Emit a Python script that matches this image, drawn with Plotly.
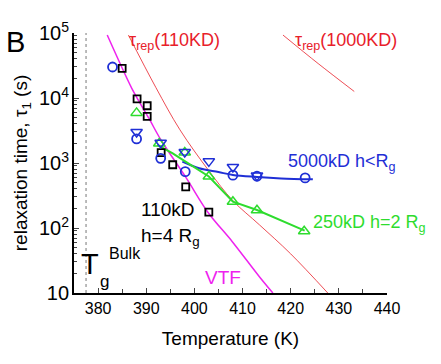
import plotly.graph_objects as go

# ---- data ----
sq_T = [385.0, 388.1, 390.2, 390.2, 393.1, 395.5, 398.2, 403.0]
sq_tau = [28500, 9700, 7600, 5200, 1440, 940, 430, 176]

blue_circ_T = [383.0, 388.0, 393.0, 398.1, 408.0, 413.0, 423.0]
blue_circ_tau = [30000, 2350, 1180, 735, 650, 625, 590]

blue_tri_T = [388.0, 393.0, 398.0, 403.0, 408.0, 413.0]
blue_tri_tau = [3000, 2050, 1480, 1060, 870, 640]

green_T = [388.0, 392.7, 398.0, 403.0, 408.0, 413.0, 422.8]
green_tau = [5900, 2000, 1450, 620, 253, 187, 89]

blue_fit_T = [397.5, 401.0, 405.0, 408.0, 413.0, 418.0, 424.6]
blue_fit_tau = [1050, 830, 725, 655, 610, 580, 560]

green_fit_T = [392.3, 395.5, 398.0, 400.5, 403.0, 408.0, 413.0, 422.9]
green_fit_tau = [1900, 1410, 1070, 820, 620, 254, 189, 91]

vtf_T = [381.9, 384.0, 387.0, 390.6, 393.0, 398.3, 402.8, 408.0, 413.5, 416.3]
vtf_tau = [93000, 42000, 14100, 4800, 2300, 590, 175, 60, 17.8, 10]

rep110_T = [386.3, 392.0, 397.0, 403.0, 408.0, 413.5, 420.0, 427.7]
rep110_tau = [93000, 14500, 3240, 760, 263, 112, 40, 10]

rep1000_T = [418.4, 425.7, 433.2]
rep1000_tau = [93000, 33900, 12600]

tg_bulk_T = 377.5
x_ticks = [380, 390, 400, 410, 420, 430, 440]

FONT = "Liberation Sans, Arial, sans-serif"
BLUE = "#1f2fd6"
GREEN = "#2edc2e"
MAG = "#ee22ee"
RED = "#e8202a"

fig = go.Figure()

fig.add_trace(go.Scatter(x=vtf_T, y=vtf_tau, mode="lines", line=dict(color=MAG, width=1.5, shape="spline", smoothing=1.0), hoverinfo="skip"))
fig.add_trace(go.Scatter(x=rep110_T, y=rep110_tau, mode="lines", line=dict(color=RED, width=0.8, shape="spline"), hoverinfo="skip"))
fig.add_trace(go.Scatter(x=rep1000_T, y=rep1000_tau, mode="lines", line=dict(color=RED, width=0.8, shape="spline"), hoverinfo="skip"))
fig.add_trace(go.Scatter(x=[tg_bulk_T, tg_bulk_T], y=[10, 100000], mode="lines", line=dict(color="#555555", width=0.8, dash="3px,3px"), hoverinfo="skip"))
fig.add_trace(go.Scatter(x=blue_fit_T, y=blue_fit_tau, mode="lines", line=dict(color=BLUE, width=2, shape="spline")))
fig.add_trace(go.Scatter(x=green_fit_T, y=green_fit_tau, mode="lines", line=dict(color=GREEN, width=2)))

fig.add_trace(go.Scatter(x=sq_T, y=sq_tau, mode="markers", marker=dict(symbol="square-open", size=7, color="black", line=dict(width=1.8, color="black"))))
fig.add_trace(go.Scatter(x=green_T, y=green_tau, mode="markers", marker=dict(symbol="triangle-up-open", size=10, color=GREEN, line=dict(width=1.5, color=GREEN))))
fig.add_trace(go.Scatter(x=blue_circ_T, y=blue_circ_tau, mode="markers", marker=dict(symbol="circle-open", size=9, color=BLUE, line=dict(width=1.8, color=BLUE))))
fig.add_trace(go.Scatter(x=blue_tri_T, y=blue_tri_tau, mode="markers", marker=dict(symbol="triangle-down-open", size=10, color=BLUE, line=dict(width=1.5, color=BLUE))))

L, T0, W, H = 74, 33, 313, 260
def px(x):
    return (x - L) / W
def py(y):
    return (T0 + H - y) / H

ann = []
def add(text, x, y, size, color="black", xa="left", ya="middle"):
    ann.append(dict(text=text, x=px(x), y=py(y), xref="paper", yref="paper", showarrow=False,
                    xanchor=xa, yanchor=ya, borderpad=0,
                    font=dict(family=FONT, size=size, color=color)))

add("B", 15, 42, 29, xa="center")
add("τ<sub>rep</sub>(110KD)", 128, 41, 18, RED)
add("τ<sub>rep</sub>(1000KD)", 294, 41, 18, RED)
add("5000kD h&lt;R<sub>g</sub>", 287, 162, 18, BLUE)
add("250kD h=2 R<sub>g</sub>", 312, 223, 18, GREEN)
add("110kD", 140, 209, 19)
add("h=4 R<sub>g</sub>", 140, 237, 19)
add("VTF", 223, 277, 19, MAG, xa="center")
add("T", 90, 264, 29, xa="center")
add("g", 104, 281, 17, xa="center")
add("Bulk", 125, 253, 16, xa="center")

fig.update_layout(
    width=441, height=364,
    margin=dict(l=L, r=441 - L - W, t=T0, b=364 - T0 - H),
    paper_bgcolor="white", plot_bgcolor="white",
    showlegend=False,
    font=dict(family=FONT, size=16, color="black"),
    annotations=ann,
    xaxis=dict(range=[375, 440], tickvals=x_ticks, ticks="inside", ticklen=5, tickwidth=1.2,
               automargin=False,
               showline=True, linecolor="black", linewidth=1.5, showgrid=False, zeroline=False,
               minor=dict(ticks="inside", ticklen=4, dtick=5, tick0=375, tickwidth=1.2, showgrid=False),
               tickfont=dict(size=16),
               title=dict(text="Temperature (K)", font=dict(size=19), standoff=16)),
    yaxis=dict(type="log", range=[1, 5], dtick=1, exponentformat="power", ticks="inside", ticklen=5, tickwidth=1.2,
               automargin=False,
               showline=True, linecolor="black", linewidth=1.5, showgrid=False, zeroline=False,
               minor=dict(ticks="inside", ticklen=3, dtick="D1", tickwidth=1, showgrid=False),
               tickfont=dict(size=16),
               title=dict(text="relaxation time, τ<sub>1</sub> (s)", font=dict(size=19), standoff=6)),
)

fig.write_html("out.html", config={"displayModeBar": False},
               post_script="document.body.style.margin='0px';")
